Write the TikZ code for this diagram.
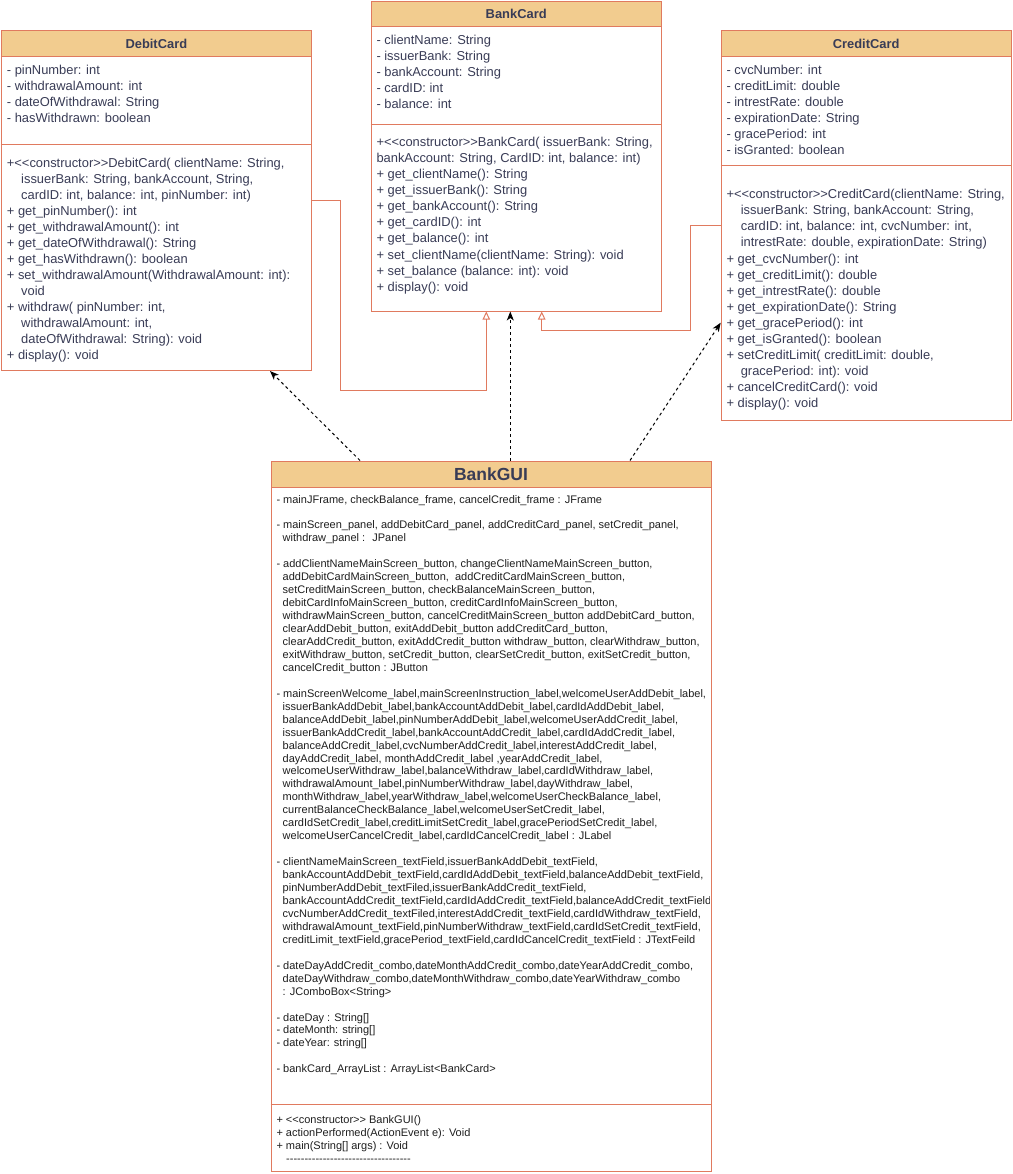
\documentclass[tikz,border=0pt]{standalone}
\usepackage{fontspec}
\setmainfont{Liberation Sans}[Ligatures=TeXOff]
\usetikzlibrary{arrows.meta}
\definecolor{hdr}{HTML}{F2CC8F}
\definecolor{edgec}{HTML}{E07A5F}
\definecolor{ink}{HTML}{393C56}
\newcommand\umltext[6]{%
  \foreach \t [count=\i from 0] in {#6} {\node[#5] (#1-\i) at ({#2},{#3+\i*#4}) {\t};}}
\newcommand\ci{\hspace*{14.3pt}}
\newcommand\gi{\hspace*{6.2pt}}
\tikzset{
  classbox/.style={draw=edgec, line width=1pt, fill=white, inner sep=0pt, anchor=north west},
  hdrbox/.style={draw=edgec, line width=1pt, fill=hdr, inner sep=0pt, anchor=north west,
    text=ink, font=\fontsize{12.9}{15}\selectfont\bfseries},
  divline/.style={draw=edgec, line width=1pt},
  ctext/.style={anchor=base west, inner sep=0pt, text=ink, font=\fontsize{12.9}{16}\selectfont},
  gtext/.style={anchor=base west, inner sep=0pt, text=black!88, font=\fontsize{11}{13}\selectfont},
  gen/.style={draw=edgec, line width=1pt, -{Triangle[open, length=8pt, width=7.5pt]}},
  dep/.style={draw=black, line width=1pt, dash pattern=on 3pt off 3pt,
    -{Stealth[length=9pt, width=7pt, inset=2.5pt]}},
}
\begin{document}
\begin{tikzpicture}[x=1pt,y=-1pt]
\useasboundingbox (0,0) rectangle (1012,1174);

% ---------- DebitCard ----------
\node[classbox, minimum width=310.3pt, minimum height=339.5pt] (debit) at (0.7,30.5) {};
\node[hdrbox, minimum width=310.3pt, minimum height=26pt] (debit-h) at (debit.north west) {DebitCard};
\draw[divline] ([yshift=-114.5pt]debit.north west) -- ([yshift=-114.5pt]debit.north east);
\umltext{da}{6.7}{75}{16}{ctext}{{- pinNumber: int},{- withdrawalAmount: int},{- dateOfWithdrawal: String},{- hasWithdrawn: boolean}}
\umltext{dm}{6.7}{167.3}{16}{ctext}{{+<<constructor>>DebitCard( clientName: String,},
{\ci issuerBank: String, bankAccount, String,},
{\ci cardID: int, balance: int, pinNumber: int)},
{+ get\_pinNumber(): int},
{+ get\_withdrawalAmount(): int},
{+ get\_dateOfWithdrawal(): String},
{+ get\_hasWithdrawn(): boolean},
{+ set\_withdrawalAmount(WithdrawalAmount: int):},
{\ci void},
{+ withdraw( pinNumber: int,},
{\ci withdrawalAmount: int,},
{\ci dateOfWithdrawal: String): void},
{+ display(): void}}

% ---------- BankCard ----------
\node[classbox, minimum width=290pt, minimum height=309.7pt] (bank) at (370.7,0.8) {};
\node[hdrbox, minimum width=290pt, minimum height=25.7pt] (bank-h) at (bank.north west) {BankCard};
\draw[divline] ([yshift=-123.7pt]bank.north west) -- ([yshift=-123.7pt]bank.north east);
\umltext{ba}{376.3}{45}{16}{ctext}{{- clientName: String},{- issuerBank: String},{- bankAccount: String},{- cardID: int},{- balance: int}}
\umltext{bm}{376.3}{147}{16}{ctext}{{+<<constructor>>BankCard( issuerBank: String,},
{bankAccount: String, CardID: int, balance: int)},
{+ get\_clientName(): String},
{+ get\_issuerBank(): String},
{+ get\_bankAccount(): String},
{+ get\_cardID(): int},
{+ get\_balance(): int},
{+ set\_clientName(clientName: String): void},
{+ set\_balance (balance: int): void},
{+ display(): void}}

% ---------- CreditCard ----------
\node[classbox, minimum width=289.8pt, minimum height=389.8pt] (credit) at (720.7,30.5) {};
\node[hdrbox, minimum width=289.8pt, minimum height=26pt] (credit-h) at (credit.north west) {CreditCard};
\draw[divline] ([yshift=-135pt]credit.north west) -- ([yshift=-135pt]credit.north east);
\umltext{ca}{726.3}{75}{16}{ctext}{{- cvcNumber: int},{- creditLimit: double},{- intrestRate: double},{- expirationDate: String},{- gracePeriod: int},{- isGranted: boolean}}
\umltext{cm}{726.3}{199}{16}{ctext}{{+<<constructor>>CreditCard(clientName: String,},
{\ci issuerBank: String, bankAccount: String,},
{\ci cardID: int, balance: int, cvcNumber: int,},
{\ci intrestRate: double, expirationDate: String)},
{+ get\_cvcNumber(): int},
{+ get\_creditLimit(): double},
{+ get\_intrestRate(): double},
{+ get\_expirationDate(): String},
{+ get\_gracePeriod(): int},
{+ get\_isGranted(): boolean},
{+ setCreditLimit( creditLimit: double,},
{\ci gracePeriod: int): void},
{+ cancelCreditCard(): void},
{+ display(): void}}

% ---------- BankGUI ----------
\node[classbox, minimum width=440pt, minimum height=710pt] (gui) at (270.5,460.5) {};
\node[hdrbox, minimum width=440pt, minimum height=26pt, font=\fontsize{17.5}{20}\selectfont\bfseries] (gui-h) at (gui.north west) {BankGUI};
\draw[divline] ([yshift=-644pt]gui.north west) -- ([yshift=-644pt]gui.north east);
\begin{scope}
\clip (270.5,487) rectangle (709.5,1170);
\umltext{ga}{276.3}{503}{12.95}{gtext}{{- mainJFrame, checkBalance\_frame, cancelCredit\_frame : JFrame},
{},
{- mainScreen\_panel, addDebitCard\_panel, addCreditCard\_panel, setCredit\_panel,},
{\gi withdraw\_panel :~ JPanel},
{},
{- addClientNameMainScreen\_button, changeClientNameMainScreen\_button,},
{\gi addDebitCardMainScreen\_button,~ addCreditCardMainScreen\_button,},
{\gi setCreditMainScreen\_button, checkBalanceMainScreen\_button,},
{\gi debitCardInfoMainScreen\_button, creditCardInfoMainScreen\_button,},
{\gi withdrawMainScreen\_button, cancelCreditMainScreen\_button addDebitCard\_button,},
{\gi clearAddDebit\_button, exitAddDebit\_button addCreditCard\_button,},
{\gi clearAddCredit\_button, exitAddCredit\_button withdraw\_button, clearWithdraw\_button,},
{\gi exitWithdraw\_button, setCredit\_button, clearSetCredit\_button, exitSetCredit\_button,},
{\gi cancelCredit\_button : JButton},
{},
{- mainScreenWelcome\_label,mainScreenInstruction\_label,welcomeUserAddDebit\_label,},
{\gi issuerBankAddDebit\_label,bankAccountAddDebit\_label,cardIdAddDebit\_label,},
{\gi balanceAddDebit\_label,pinNumberAddDebit\_label,welcomeUserAddCredit\_label,},
{\gi issuerBankAddCredit\_label,bankAccountAddCredit\_label,cardIdAddCredit\_label,},
{\gi balanceAddCredit\_label,cvcNumberAddCredit\_label,interestAddCredit\_label,},
{\gi dayAddCredit\_label, monthAddCredit\_label ,yearAddCredit\_label,},
{\gi welcomeUserWithdraw\_label,balanceWithdraw\_label,cardIdWithdraw\_label,},
{\gi withdrawalAmount\_label,pinNumberWithdraw\_label,dayWithdraw\_label,},
{\gi monthWithdraw\_label,yearWithdraw\_label,welcomeUserCheckBalance\_label,},
{\gi currentBalanceCheckBalance\_label,welcomeUserSetCredit\_label,},
{\gi cardIdSetCredit\_label,creditLimitSetCredit\_label,gracePeriodSetCredit\_label,},
{\gi welcomeUserCancelCredit\_label,cardIdCancelCredit\_label : JLabel},
{},
{- clientNameMainScreen\_textField,issuerBankAddDebit\_textField,},
{\gi bankAccountAddDebit\_textField,cardIdAddDebit\_textField,balanceAddDebit\_textField,},
{\gi pinNumberAddDebit\_textFiled,issuerBankAddCredit\_textField,},
{\gi bankAccountAddCredit\_textField,cardIdAddCredit\_textField,balanceAddCredit\_textField,},
{\gi cvcNumberAddCredit\_textFiled,interestAddCredit\_textField,cardIdWithdraw\_textField,},
{\gi withdrawalAmount\_textField,pinNumberWithdraw\_textField,cardIdSetCredit\_textField,},
{\gi creditLimit\_textField,gracePeriod\_textField,cardIdCancelCredit\_textField : JTextFeild},
{},
{- dateDayAddCredit\_combo,dateMonthAddCredit\_combo,dateYearAddCredit\_combo,},
{\gi dateDayWithdraw\_combo,dateMonthWithdraw\_combo,dateYearWithdraw\_combo},
{\gi : JComboBox<String>},
{},
{- dateDay : String[]},
{- dateMonth: string[]},
{- dateYear: string[]},
{},
{- bankCard\_ArrayList : ArrayList<BankCard>}}
\umltext{gm}{276.3}{1123.7}{13}{gtext}{{+ <<constructor>> BankGUI()},
{+ actionPerformed(ActionEvent e): Void},
{+ main(String[] args) : Void},
{\hspace*{9.7pt}----------------------------------}}
\end{scope}

% ---------- connectors ----------
\draw[gen] ([yshift=-170.2pt]debit.north east) -- (340.3,200.7) -- (340.3,390) -- (486.3,390)
  -- ([xshift=115.6pt]bank.south west);
\draw[gen] ([yshift=-194.8pt]credit.north west) -- (690.3,225.3) -- (690.3,330) -- (541.7,330)
  -- ([xshift=171pt]bank.south west);
\draw[dep] ([xshift=89.5pt]gui.north west) -- ([xshift=269.3pt]debit.south west);
\draw[dep] ([xshift=239.8pt]gui.north west) -- ([xshift=139.6pt]bank.south west);
\draw[dep] ([xshift=359.5pt]gui.north west) -- ([yshift=-292.2pt]credit.north west);
\end{tikzpicture}
\end{document}
